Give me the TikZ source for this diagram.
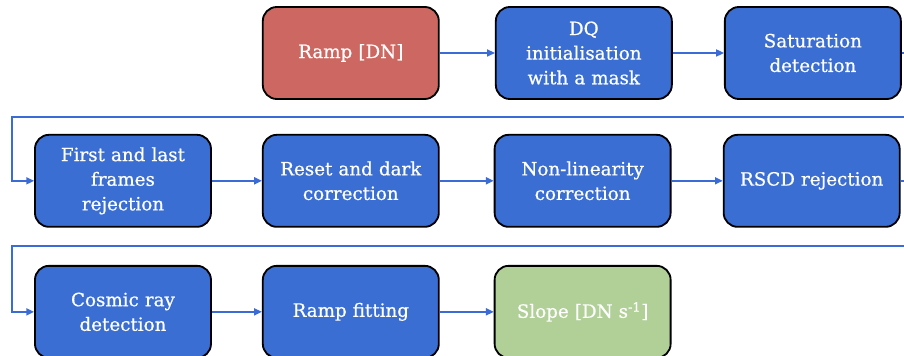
\documentclass[tikz,border=0pt]{standalone}
\usepackage{fontspec}
\setmainfont{DejaVu Serif}
\newfontfamily\boxfont{DejaVu Serif}[FakeBold=0.6]
\usetikzlibrary{arrows.meta,positioning,calc}
\definecolor{stepblue}{HTML}{3B6ED3}
\definecolor{rampred}{HTML}{CD6761}
\definecolor{slopegreen}{HTML}{B1D098}
\definecolor{flowline}{HTML}{3A6BD6}

\begin{document}
\begin{tikzpicture}[node distance=.85cm and 1.3cm,
 box/.style={draw=black,line width=1.3pt,fill=stepblue,rounded corners=3.5mm,text width=4.2cm,
 inner xsep=.1cm,align=center,minimum height=2.3cm,font=\boxfont\fontsize{13}{17.5}\selectfont,text=white},
 flow/.style={->,flowline,line width=1.1pt},>={Triangle[length=5.5pt,width=5pt]}]
\useasboundingbox (0,0) rectangle (22.6,-8.9);
\node[box,fill=rampred] (ramp) at (8.77,-1.325) {Ramp [DN]};
\node[box,right=1.38cm of ramp] (dq) {DQ\\ initialisation\\ with a mask};
\node[box,right=1.28cm of dq] (sat) {Saturation\\ detection};
\node[box,below=of ramp] (reset) {Reset and dark\\ correction};
\node[box,left=1.25cm of reset] (first) {First and last\\ frames\\ rejection};
\node[box,right=1.35cm of reset] (nonlin) {Non-linearity\\ correction};
\node[box,right=1.28cm of nonlin] (rscd) {RSCD rejection};
\node[box,below=.93cm of first] (cosmic) {Cosmic ray\\ detection};
\node[box,right=1.25cm of cosmic] (fit) {Ramp fitting};
\node[box,fill=slopegreen,right=1.35cm of fit] (slope) {Slope [DN s\textsuperscript{-1}]};
\foreach \x/\y in {ramp/dq,dq/sat,first/reset,reset/nonlin,nonlin/rscd,cosmic/fit,fit/slope} \draw[flow] (\x)--(\y);
\coordinate (turna) at ($(first.north west)+(-.55,.42)$);
\coordinate (turnb) at ($(cosmic.north west)+(-.55,.47)$);
\draw[flow] (sat.east) -- ++(.6,0) |- (turna) |- (first.west);
\draw[flow] (rscd.east) -- ++(.6,0) |- (turnb) |- (cosmic.west);
\end{tikzpicture}
\end{document}
